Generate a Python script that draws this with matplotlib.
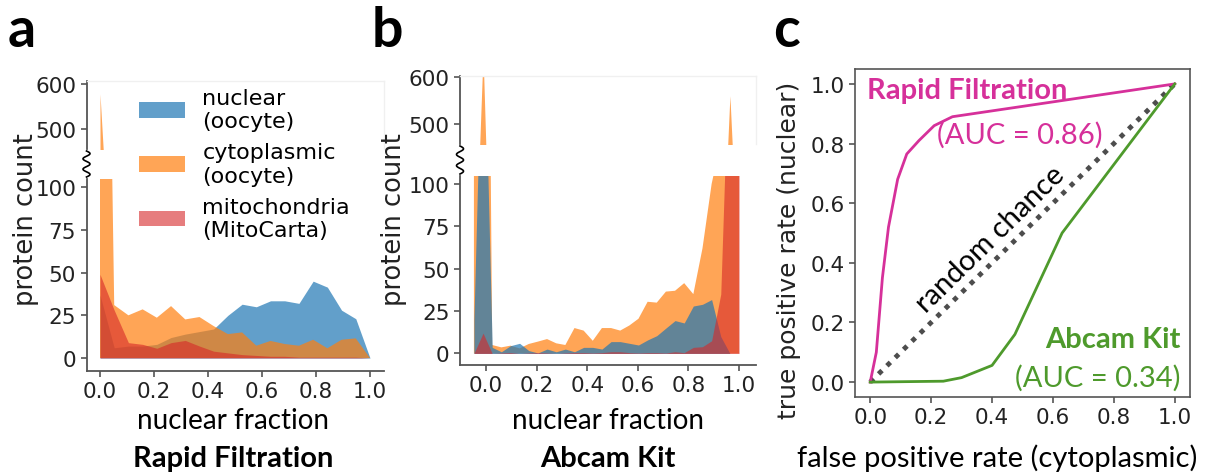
import matplotlib
matplotlib.use('Agg')
import matplotlib.pyplot as plt
import numpy as np
from matplotlib.lines import Line2D

# ---- data -------------------------------------------------------------
# panel a (Rapid Filtration): histogram of nuclear fraction
frac_a = np.linspace(0, 1, 20)
nuclear_a = [37, 6, 7, 7, 8, 12, 14, 15.5, 17, 25, 31.5, 30, 33.5, 33.5, 32, 45, 41.5, 28, 23, 0]
cyto_a = [578, 31, 25, 28.5, 23.6, 30.4, 22.6, 24, 18.7, 14, 15, 7.2, 10, 8.2, 7.2, 10.7, 5.7, 10.7, 11.5, 0]
mito_a = [49, 28, 9, 8, 5.7, 9, 10.3, 7, 4, 3, 2, 1.5, 1, 1, 0.5, 0.5, 0.5, 0.5, 0.5, 0]

# panel b (Abcam Kit)
frac_b = np.linspace(-0.048, 1.0, 30)
nuclear_b = [20, 220, 3.6, 1, 4.6, 6, 1.7, 0.3, 2.6, 1, 2.6, 1, 3.6, 3.6, 2.6,
             7, 7, 6, 5, 8, 10.5, 15, 19.4, 18, 28, 29, 31.8, 10, 0, 0]
cyto_b = [120, 650, 5, 3.6, 4.6, 3, 5.6, 7, 8.5, 6, 5, 15, 13.5, 7.5, 15,
          15, 13.5, 16.5, 20.5, 30.5, 30, 36.5, 37, 41.5, 35, 62, 100, 125, 560, 150]
mito_b = [0, 12, 0, 0.3, 0.5, 0, 0.3, 0.5, 0.3, 0, 0.3, 0.5, 0.5, 0.3, 0.5,
          1, 1, 0.5, 0.3, 0.5, 0.5, 0.3, 1, 0.5, 3.6, 4, 7.5, 35, 200, 150]

labels = ['nuclear\n(oocyte)', 'cytoplasmic\n(oocyte)', 'mitochondria\n(MitoCarta)']

# panel c: ROC curves
fpr_rf = [0, 0.02, 0.04, 0.06, 0.09, 0.12, 0.16, 0.21, 0.27, 1.0]
tpr_rf = [0, 0.10, 0.35, 0.52, 0.68, 0.765, 0.81, 0.86, 0.89, 1.0]
fpr_ab = [0, 0.24, 0.30, 0.40, 0.475, 0.63, 1.0]
tpr_ab = [0, 0.003, 0.015, 0.056, 0.16, 0.50, 1.0]
auc_rf = 0.86
auc_ab = 0.34

# ---- layout helpers (pixel based) ------------------------------------
W, H = 1207, 477
fig = plt.figure(figsize=(W / 100, H / 100), dpi=100)


def add_ax(left, top, right, bottom):
    return fig.add_axes([left / W, 1 - bottom / H, (right - left) / W, (bottom - top) / H])


def ftext(x, y, s, **kw):
    return fig.text(x / W, 1 - y / H, s, **kw)


BLUE, ORANGE, RED = '#1f77b4', '#ff7f0e', '#d62728'
SPINE = '#555555'
TXT = '#222222'
CAL = ['Lato', 'DejaVu Sans']
MAG = '#d6309a'
GRN = '#4e9a2c'


def style_broken(ax_lo, ax_hi, xlim, lo_lim, hi_lim):
    for ax in (ax_lo, ax_hi):
        ax.set_xlim(*xlim)
        ax.spines['left'].set_color(SPINE)
        ax.spines['left'].set_linewidth(1.3)
        ax.tick_params(colors=SPINE, labelcolor=TXT, labelsize=15.5, length=4, width=1.2)
    ax_lo.spines['right'].set_visible(False)
    ax_lo.spines['top'].set_visible(False)
    ax_lo.spines['bottom'].set_color(SPINE)
    ax_lo.spines['bottom'].set_linewidth(1.3)
    # faint frame on the upper part, as in the original
    for side in ('top', 'right'):
        ax_hi.spines[side].set_color('#f0f0f0')
        ax_hi.spines[side].set_linewidth(1)
    ax_hi.spines['bottom'].set_visible(False)
    ax_hi.set_xticks([])
    ax_lo.set_ylim(*lo_lim)
    ax_hi.set_ylim(*hi_lim)
    ax_lo.set_yticks([0, 25, 50, 75, 100])
    ax_hi.set_yticks([500, 600])
    ax_lo.set_xticks([0, 0.2, 0.4, 0.6, 0.8, 1.0])
    ax_lo.set_xticklabels(['0.0', '0.2', '0.4', '0.6', '0.8', '1.0'])


def squiggle(x0, y0, y1):
    t = np.linspace(0, 1, 80)
    xs = x0 + 3.5 * np.sin(t * 2.5 * 2 * np.pi)
    ys = y0 + (y1 - y0) * t
    fig.add_artist(Line2D(xs / W, 1 - ys / H, color='black', lw=1.2,
                          transform=fig.transFigure))


# ---- panel a ---------------------------------------------------------
a_lo = add_ax(86.5, 179.7, 383.5, 372)
a_hi = add_ax(86.5, 82, 383.5, 150)
handles = []
for ax in (a_lo, a_hi):
    h1 = ax.fill_between(frac_a, nuclear_a, color=BLUE, alpha=0.7, lw=0, label=labels[0])
    h2 = ax.fill_between(frac_a, cyto_a, color=ORANGE, alpha=0.7, lw=0, label=labels[1])
    h3 = ax.fill_between(frac_a, mito_a, color=RED, alpha=0.6, lw=0, label=labels[2])
    handles = [h1, h2, h3]
style_broken(a_lo, a_hi, (-0.05, 1.05), (-7.6, 105), (455.6, 606.7))
squiggle(86.5, 152, 178)

fig.legend(handles, labels, loc='upper left', bbox_to_anchor=(139 / W, 1 - 89 / H),
           frameon=False, fontsize=16, borderpad=0, borderaxespad=0,
           handlelength=2.05, handletextpad=0.8, labelspacing=0.5)

# ---- panel b ---------------------------------------------------------
b_lo = add_ax(460, 176.5, 756, 366)
b_hi = add_ax(460, 77, 756, 145)
for ax in (b_lo, b_hi):
    ax.fill_between(frac_b, cyto_b, color=ORANGE, alpha=0.7, lw=0)
    ax.fill_between(frac_b, nuclear_b, color=BLUE, alpha=0.7, lw=0)
    ax.fill_between(frac_b, mito_b, color=RED, alpha=0.6, lw=0)
style_broken(b_lo, b_hi, (-0.103, 1.067), (-6.8, 105), (457.4, 602))
squiggle(460, 147, 175)

# axis texts for a and b
for cx, ylx, title in [(233, 26, 'Rapid Filtration'), (608, 394, 'Abcam Kit')]:
    ftext(ylx, 220, 'protein count', rotation=90, ha='center', va='center',
          fontsize=18.5, color=TXT)
    ftext(cx, 421, 'nuclear fraction', ha='center', va='center', fontsize=20,
          family=CAL, color='black')
    ftext(cx, 459, title, ha='center', va='center', fontsize=21,
          family=CAL, fontweight='bold', color='black')

# ---- panel c ---------------------------------------------------------
c = add_ax(855, 70, 1190, 398)
c.plot([0, 1], [0, 1], color='#4d4d4d', lw=3.5, ls=(0, (1, 1.4)))
c.plot(fpr_rf, tpr_rf, color=MAG, lw=2)
c.plot(fpr_ab, tpr_ab, color=GRN, lw=2)
c.set_xlim(-0.05, 1.05)
c.set_ylim(-0.05, 1.05)
c.set_xticks([0, 0.2, 0.4, 0.6, 0.8, 1.0])
c.set_yticks([0, 0.2, 0.4, 0.6, 0.8, 1.0])
c.set_xticklabels(['0.0', '0.2', '0.4', '0.6', '0.8', '1.0'])
c.set_yticklabels(['0.0', '0.2', '0.4', '0.6', '0.8', '1.0'])
for s in c.spines.values():
    s.set_color(SPINE)
    s.set_linewidth(1.2)
c.tick_params(colors=SPINE, labelcolor=TXT, labelsize=15.5, length=4, width=1.2)

c.text(-0.01, 0.98, 'Rapid Filtration', color=MAG, fontsize=21, fontweight='bold',
       family=CAL, ha='left', va='center')
c.text(0.49, 0.83, '(AUC = %.2f)' % auc_rf, color=MAG, fontsize=21, family=CAL,
       ha='center', va='center')
c.text(0.395, 0.48, 'random chance', color='black', fontsize=21, family=CAL,
       rotation=44.4, ha='center', va='center', rotation_mode='anchor')
c.text(1.02, 0.146, 'Abcam Kit', color=GRN, fontsize=21, fontweight='bold',
       family=CAL, ha='right', va='center')
c.text(1.02, 0.015, '(AUC = %.2f)' % auc_ab, color=GRN, fontsize=21, family=CAL,
       ha='right', va='center')

ftext(789, 250, 'true positive rate (nuclear)', rotation=90, ha='center',
      va='center', fontsize=18, color=TXT)
ftext(997, 458, 'false positive rate (cytoplasmic)', ha='center', va='center',
      fontsize=21, family=CAL, color='black')

# panel letters
for x, s in [(8, 'a'), (372, 'b'), (773, 'c')]:
    ftext(x, 47, s, fontsize=40, fontweight='bold', family=CAL, ha='left',
          va='baseline', color='black')

fig.savefig('out.png', dpi=100)
